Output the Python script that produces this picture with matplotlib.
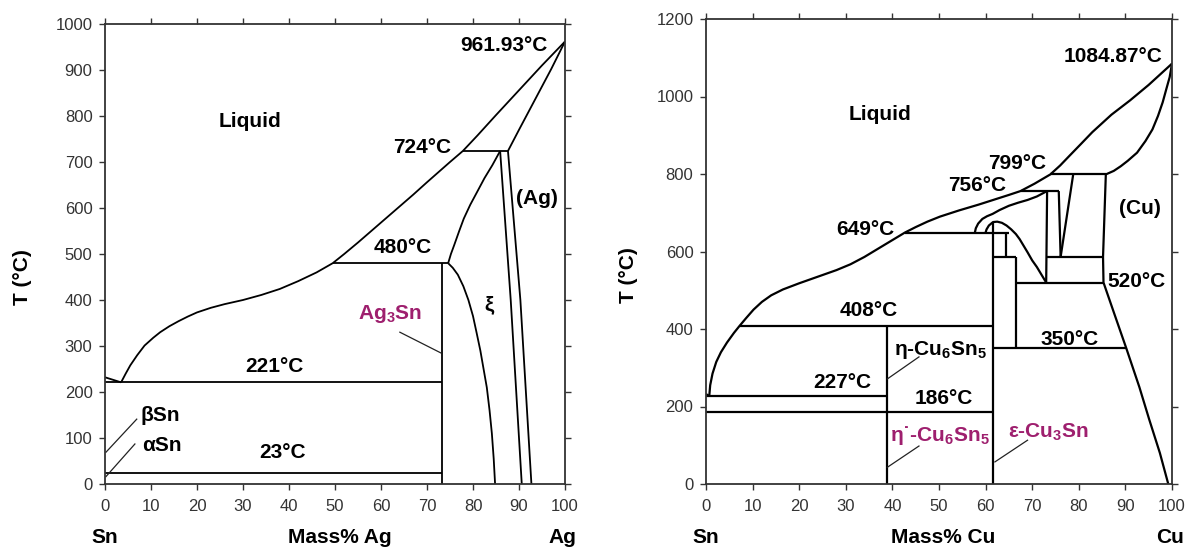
import matplotlib.pyplot as plt

plt.rcParams['font.family'] = ['Liberation Sans', 'DejaVu Sans']
plt.rcParams['mathtext.fontset'] = 'custom'
plt.rcParams['mathtext.rm'] = 'Liberation Sans:bold'
plt.rcParams['mathtext.it'] = 'Liberation Sans:bold'
plt.rcParams['mathtext.bf'] = 'Liberation Sans:bold'
plt.rcParams['mathtext.default'] = 'rm'

PURPLE = '#9e1f6e'

# ---------- Sn-Ag system: boundaries as (mass% Ag, T) ----------
ag_liquidus_sn = [(0, 232), (3.5, 221)]
ag_liquidus = [(3.5, 221), (4.5, 240), (5.5, 258), (7, 280), (8.6, 301), (10.5, 318),
               (12, 330), (14, 343), (16, 354), (18, 364), (20, 373), (23, 383),
               (26, 391), (30, 400), (34, 411), (38, 424), (42, 441), (46, 460),
               (49.5, 480), (52, 500), (55, 525), (58, 551), (61, 577), (64, 603),
               (67, 629), (70, 656), (72.5, 678), (75, 700), (77.8, 724), (81, 758),
               (85, 802), (90, 856), (95, 910), (100, 961.93)]
ag_solidus = [(87.6, 724), (90, 770), (93.5, 836), (97, 902), (100, 961.93)]
ag_zeta_top = [(74.6, 480), (75.2, 500), (75.9, 519), (77, 550), (78, 577), (79.4, 607),
               (80.9, 635), (82.5, 665), (84.2, 693), (85.9, 724)]
ag_zeta_left = [(74.6, 480), (75.6, 470), (76.7, 455), (77.9, 430), (79, 400),
                (80, 365), (80.8, 328), (81.6, 290), (82.3, 250), (83, 210),
                (83.6, 160), (84.1, 110), (84.5, 55), (84.8, 0)]
ag_zeta_right = [(85.9, 724), (88.2, 400), (90.6, 0)]
ag_ag_solvus = [(87.6, 724), (90.3, 400), (92.7, 0)]
ag_peritectic_724 = [(77.8, 724), (87.6, 724)]
ag_peritectic_480 = [(49.5, 480), (74.6, 480)]
ag_ag3sn = [(73.2, 0), (73.2, 480)]
ag_eutectic_221 = [(0, 221), (73.2, 221)]
ag_tin_23 = [(0, 23), (73.2, 23)]
ag_leaders = [[(0.2, 69), (6.9, 141)], [(0.2, 16), (6.5, 87)], [(64.1, 330), (73, 285)]]

# ---------- Sn-Cu system: boundaries as (mass% Cu, T) ----------
cu_liquidus_sn = [(0, 232), (0.7, 227)]
cu_liquidus = [(0.7, 227), (0.9, 255), (1.4, 285), (2.2, 315), (3.2, 340), (4.5, 365),
               (6, 390), (7.2, 408), (8.6, 428), (10.2, 450), (12, 470), (14, 487),
               (16.5, 502), (20, 518), (24, 535), (28, 552), (31, 567), (34, 586),
               (38, 615), (42.7, 649), (45, 663), (47.5, 677), (50.2, 690), (54.3, 706),
               (58.5, 721), (62.4, 736), (65, 746), (67.5, 756), (70.5, 775),
               (73.9, 799), (76, 822), (78, 847), (80.5, 878), (82.9, 908), (87, 953),
               (91, 990), (95, 1030), (100, 1084.87)]
cu_solidus = [(85.8, 799), (87.5, 808), (89, 820), (90.5, 834), (92.5, 855),
              (94.3, 885), (95.8, 915), (97, 950), (98, 985), (98.8, 1020),
              (99.5, 1050), (100, 1084.87)]
cu_solvus = [(85.8, 799), (85.2, 586), (85.3, 520), (87.6, 440), (90.2, 350),
             (93, 250), (95.1, 167), (97.4, 80), (99.2, 0)]
cu_gamma_outer = [(57.7, 649), (57.9, 660), (58.4, 672), (59.3, 684), (60.3, 691),
                  (61.5, 697), (63, 707), (65, 718), (67, 726), (69, 733), (71, 742),
                  (73.2, 756)]
cu_gamma_line = [(73.2, 756), (73.0, 520)]
cu_beta_left = [(75.7, 756), (76.1, 586)]
cu_beta_right = [(78.8, 799), (76.1, 586)]
cu_dome = [(60, 649), (60.2, 657), (60.7, 667), (61.6, 676), (62.5, 677), (63.5, 674),
           (64.5, 667), (65.5, 657), (66.5, 645), (67.3, 632), (68, 618), (69, 598),
           (70, 577), (71, 560), (72, 540), (73, 520)]
cu_line_799 = [(73.9, 799), (85.8, 799)]
cu_line_756 = [(67.5, 756), (75.7, 756)]
cu_line_649 = [(42.7, 649), (65, 649)]
cu_line_586 = [(73.05, 586), (85.2, 586)]
cu_line_586_short = [(61.6, 586), (66.5, 586)]
cu_box_side = [(64.3, 586), (64.3, 649)]
cu_line_520 = [(66.5, 520), (85.3, 520)]
cu_line_408 = [(7.2, 408), (61.6, 408)]
cu_line_350 = [(61.6, 350), (90.2, 350)]
cu_line_227 = [(0, 227), (38.9, 227)]
cu_line_186 = [(0, 186), (61.6, 186)]
cu_delta = [(66.5, 350), (66.5, 586)]
cu_epsilon = [(61.6, 0), (61.6, 677)]
cu_eta = [(38.9, 0), (38.9, 408)]
cu_leaders = [[(45.7, 328), (38.9, 271)], [(45.7, 98), (38.9, 43)], [(69, 113), (62, 57)]]

ag_curves = [ag_liquidus_sn, ag_liquidus, ag_solidus, ag_zeta_top, ag_zeta_left,
             ag_zeta_right, ag_ag_solvus, ag_peritectic_724, ag_peritectic_480,
             ag_ag3sn, ag_eutectic_221, ag_tin_23]
cu_curves = [cu_liquidus_sn, cu_liquidus, cu_solidus, cu_solvus, cu_gamma_outer,
             cu_gamma_line, cu_beta_left, cu_beta_right, cu_dome, cu_line_799,
             cu_line_756, cu_line_649, cu_line_586, cu_line_586_short, cu_box_side,
             cu_line_520, cu_line_408, cu_line_350, cu_line_227, cu_line_186,
             cu_delta, cu_epsilon, cu_eta]

x_ticks = list(range(0, 101, 10))
ag_t_ticks = list(range(0, 1001, 100))
cu_t_ticks = list(range(0, 1201, 200))


def draw(ax, curves, leaders, lw):
    for c in curves:
        xs, ts = zip(*c)
        ax.plot(xs, ts, color='black', lw=lw, solid_capstyle='butt',
                solid_joinstyle='round')
    for c in leaders:
        xs, ts = zip(*c)
        ax.plot(xs, ts, color='#222222', lw=0.9)


def style(ax, t_ticks, t_max):
    ax.set_xlim(0, 100)
    ax.set_ylim(0, t_max)
    ax.set_xticks(x_ticks)
    ax.set_yticks(t_ticks)
    ax.tick_params(direction='out', length=4, width=1, top=True, right=True,
                   labelsize=12, labelcolor='#333333', color='#333333')
    ax.tick_params(axis='x', pad=7)
    ax.tick_params(axis='y', pad=5)
    for s in ax.spines.values():
        s.set_linewidth(1.3)
        s.set_color('#333333')


fig = plt.figure(figsize=(11.93, 5.54), dpi=100)
ax1 = fig.add_axes([105 / 1193, 1 - 484 / 554, 460 / 1193, 460 / 554])
ax2 = fig.add_axes([706 / 1193, 1 - 484 / 554, 466 / 1193, 465 / 554])

# Sn-Ag
draw(ax1, ag_curves, ag_leaders, 1.3)
style(ax1, ag_t_ticks, 1000)
bold = dict(fontsize=15, fontweight='bold', color='black', va='center')
ax1.text(31.6, 787, 'Liquid', ha='center', **bold)
ax1.text(96.3, 953, '961.93°C', ha='right', **bold)
ax1.text(75.3, 732, '724°C', ha='right', **bold)
ax1.text(64.8, 515, '480°C', ha='center', **bold)
ax1.text(93.9, 620, '(Ag)', ha='center', **bold)
ax1.text(83.4, 391, 'ξ', ha='center', **bold)
ax1.text(36.8, 256, '221°C', ha='center', **bold)
ax1.text(38.5, 69, '23°C', ha='center', **bold)
ax1.text(7.7, 148, 'βSn', ha='left', **bold)
ax1.text(8.1, 83, 'αSn', ha='left', **bold)
ax1.text(62, 370, 'Ag$_3$Sn', ha='center', fontsize=15, fontweight='bold',
         color=PURPLE, va='center')

# Sn-Cu
draw(ax2, cu_curves, cu_leaders, 1.6)
style(ax2, cu_t_ticks, 1200)
ax2.text(37.3, 954, 'Liquid', ha='center', **bold)
ax2.text(98, 1103, '1084.87°C', ha='right', **bold)
ax2.text(73.1, 827, '799°C', ha='right', **bold)
ax2.text(64.5, 770, '756°C', ha='right', **bold)
ax2.text(40.4, 657, '649°C', ha='right', **bold)
ax2.text(93.1, 710, '(Cu)', ha='center', **bold)
ax2.text(86.1, 522, '520°C', ha='left', **bold)
ax2.text(34.9, 448, '408°C', ha='center', **bold)
ax2.text(40.4, 347, 'η-Cu$_6$Sn$_5$', ha='left', **bold)
ax2.text(29.2, 261, '227°C', ha='center', **bold)
ax2.text(51.1, 221, '186°C', ha='center', **bold)
ax2.text(78, 374, '350°C', ha='center', **bold)
ax2.text(39.4, 124, 'η˙-Cu$_6$Sn$_5$', ha='left', fontsize=15, fontweight='bold',
         color=PURPLE, va='center')
ax2.text(64.9, 133, 'ε-Cu$_3$Sn', ha='left', fontsize=15, fontweight='bold',
         color=PURPLE, va='center')

# axis captions
for ax, elem, yoff in [(ax1, 'Ag', -0.117), (ax2, 'Cu', -0.114)]:
    tr = ax.get_xaxis_transform()
    ax.text(0, yoff, 'Sn', transform=tr, ha='center', **bold)
    ax.text(51, yoff, 'Mass% ' + elem, transform=tr, ha='center', **bold)
    ax.text(99.5, yoff, elem, transform=tr, ha='center', **bold)

fig.text(23 / 1193, 1 - 277 / 554, 'T (°C)', rotation=90, ha='center', va='center',
         fontsize=15, fontweight='bold')
fig.text(628 / 1193, 1 - 275 / 554, 'T (°C)', rotation=90, ha='center', va='center',
         fontsize=15, fontweight='bold')

fig.savefig('out.png', dpi=100)
